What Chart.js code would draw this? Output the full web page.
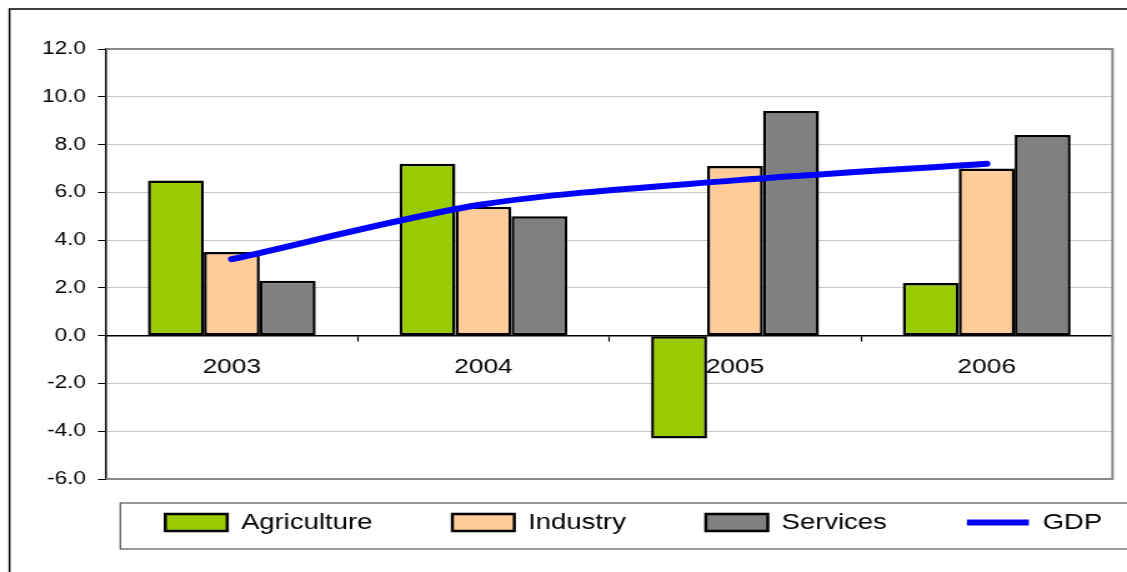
<!DOCTYPE html>
<html>
<head>
<meta charset="utf-8">
<title>Growth by sector</title>
<script src="https://cdn.jsdelivr.net/npm/chart.js@4/dist/chart.umd.min.js"></script>
<style>
  html, body { margin: 0; padding: 0; background: #fff; overflow: hidden; }
  canvas { display: block; }
</style>
</head>
<body>
<!-- the original picture is stretched sideways, so the canvas is drawn narrower and widened by css -->
<canvas id="grafico" width="902" height="572" style="width:1127px;height:572px"></canvas>
<script>
const years = ['2003', '2004', '2005', '2006'];
const agriculture = [6.5, 7.2, -4.3, 2.2];
const industry = [3.5, 5.4, 7.1, 7.0];
const services = [2.3, 5.0, 9.4, 8.4];
const gdp = [3.2, 5.5, 6.5, 7.2];
const yMin = -6;
const yMax = 12;
const yStep = 2;

Chart.defaults.font.family = "'Liberation Sans', Arial, sans-serif";
Chart.defaults.color = '#000';

// frames round the plot, the legend and the whole chart, like the Excel original
const molduras = {
  id: 'molduras',
  afterLayout(chart) {
    const lg = chart.legend;
    lg.left += 62; lg.right += 62;
    lg.top -= 31.5; lg.bottom -= 31.5;
  },
  beforeDatasetsDraw(chart) {
    const {ctx, chartArea: a} = chart;
    ctx.save();
    ctx.strokeStyle = '#888';
    ctx.lineWidth = 2;
    ctx.beginPath();
    ctx.moveTo(a.left, a.top);
    ctx.lineTo(a.right, a.top);
    ctx.lineTo(a.right, a.bottom);
    ctx.lineTo(a.left, a.bottom);
    ctx.stroke();
    ctx.restore();
  },
  afterDraw(chart) {
    const {ctx} = chart;
    const boxes = chart.legend.legendHitBoxes;
    if (!boxes || !boxes.length) return;
    const first = boxes[0];
    const last = boxes[boxes.length - 1];
    ctx.save();
    ctx.strokeStyle = '#555';
    ctx.lineWidth = 1.2;
    ctx.strokeRect(first.left - 36, first.top - 8.5, last.left + last.width + 36 - (first.left - 36), 46);
    ctx.strokeStyle = '#000';
    ctx.lineWidth = 1.5;
    ctx.strokeRect(7.6, 9, chart.width + 40, chart.height + 40);
    ctx.restore();
  }
};

const barra = (label, data, cor) => ({
  type: 'bar',
  label: label,
  data: data,
  backgroundColor: cor,
  borderColor: '#000',
  borderWidth: 2.5,
  borderSkipped: false,
  pointStyle: 'rect',
  categoryPercentage: 0.667,
  barPercentage: 1.0,
  order: 2
});

new Chart(document.getElementById('grafico'), {
  data: {
    labels: years,
    datasets: [
      barra('Agriculture', agriculture, '#99CC00'),
      barra('Industry', industry, '#FFCC99'),
      barra('Services', services, '#808080'),
      {
        type: 'line',
        label: 'GDP',
        data: gdp,
        borderColor: '#0000FF',
        backgroundColor: '#0000FF',
        borderWidth: 6,
        borderCapStyle: 'round',
        pointStyle: 'line',
        pointRadius: 0,
        tension: 0.3,
        fill: false,
        order: 1
      }
    ]
  },
  options: {
    responsive: false,
    animation: false,
    layout: { padding: { top: 49, left: 0, right: 11.6, bottom: 0 } },
    plugins: {
      tooltip: { enabled: false },
      legend: {
        position: 'bottom',
        maxHeight: 93,
        labels: {
          usePointStyle: true,
          pointStyleWidth: 49.6,
          boxHeight: 17,
          padding: 64,
          font: { size: 22 },
          sort: (a, b) => a.datasetIndex - b.datasetIndex
        }
      }
    },
    scales: {
      x: {
        type: 'category',
        position: { y: 0 },
        grid: { offset: true, drawOnChartArea: false, tickLength: 5, tickColor: '#000', tickWidth: 1.2 },
        border: { color: '#000', width: 1.5 },
        ticks: { font: { size: 21 }, padding: 14, maxRotation: 0 }
      },
      y: {
        min: yMin,
        max: yMax,
        afterFit(scale) { scale.width = 84.8; },
        ticks: {
          stepSize: yStep,
          font: { size: 18 },
          padding: 9.6,
          callback: v => v.toFixed(1)
        },
        grid: { color: '#c8c8c8', lineWidth: 1, tickLength: 6.4, tickColor: '#000' },
        border: { color: '#000', width: 1.5 }
      }
    }
  },
  plugins: [molduras]
});
</script>
</body>
</html>
